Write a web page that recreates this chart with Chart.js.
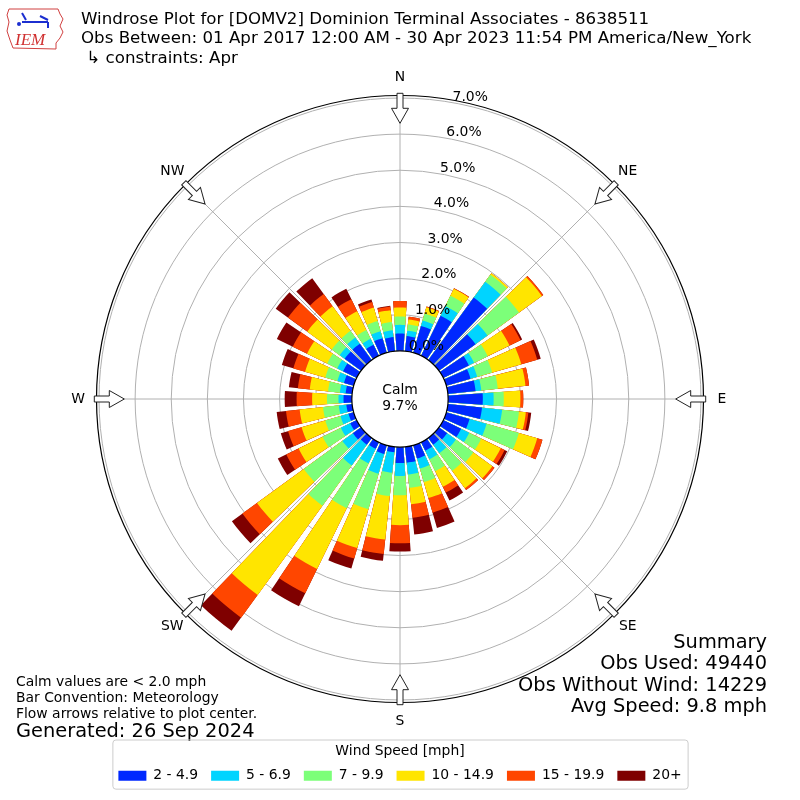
<!DOCTYPE html>
<html>
<head>
<meta charset="utf-8">
<script src="https://cdn.jsdelivr.net/npm/chart.js@4.4.0/dist/chart.umd.min.js"></script>
<style>
html,body{margin:0;padding:0;background:#ffffff;}
#wrap{width:800px;height:800px;position:relative;}
</style>
</head>
<body>
<div id="wrap"><canvas id="c" width="800" height="800"></canvas></div>
<script>
// ---------------- DATA ----------------
const directions = [0,10,20,30,40,50,60,70,80,90,100,110,120,130,140,150,160,170,
                    180,190,200,210,220,230,240,250,260,270,280,290,300,310,320,330,340,350];
const compassLabels = ['N','NE','E','SE','S','SW','W','NW'];
const speedBins = ['2 - 4.9','5 - 6.9','7 - 9.9','10 - 14.9','15 - 19.9','20+'];
const binColors = ['#0028ff','#00d4ff','#7cff79','#ffe500','#ff4600','#7f0000'];

// percent of all observations, per direction (0..350 deg)
const speed2to5   = [0.48,0.42,0.77,1.23,2.14,1.25,0.79,0.70,0.77,0.96,0.95,0.67,0.55,0.28,0.23,0.26,0.38,0.44,
                     0.44,0.15,0.25,0.20,0.23,0.28,0.20,0.15,0.16,0.23,0.18,0.28,0.42,0.56,0.56,0.34,0.42,0.39];
const speed5to7   = [0.24,0.15,0.16,0.30,0.54,0.41,0.16,0.19,0.16,0.30,0.56,0.49,0.25,0.30,0.29,0.26,0.29,0.33,
                     0.36,0.57,0.57,0.45,0.71,0.36,0.29,0.23,0.21,0.14,0.16,0.19,0.18,0.17,0.21,0.18,0.20,0.19];
const speed7to10  = [0.23,0.17,0.20,0.32,0.24,1.08,0.42,0.43,0.46,0.28,0.47,0.93,0.37,0.60,0.60,0.37,0.39,0.37,
                     0.53,0.65,1.02,1.38,1.38,1.32,0.56,0.44,0.44,0.32,0.33,0.35,0.31,0.27,0.23,0.27,0.29,0.23];
const speed10to15 = [0.25,0.14,0.18,0.21,0.05,0.78,0.67,0.84,0.77,0.46,0.19,0.53,0.60,0.65,0.60,0.48,0.46,0.46,
                     0.83,1.21,1.12,1.87,3.05,1.60,0.74,0.68,0.65,0.41,0.51,0.58,0.62,0.84,0.84,0.58,0.39,0.33];
const speed15to20 = [0.18,0.08,0.02,0.02,0.00,0.05,0.34,0.46,0.10,0.08,0.07,0.15,0.12,0.07,0.06,0.18,0.42,0.37,
                     0.50,0.40,0.30,0.75,0.78,0.50,0.38,0.39,0.38,0.43,0.33,0.34,0.44,0.66,0.42,0.37,0.16,0.10];
const speed20plus = [0.00,0.00,0.00,0.00,0.00,0.00,0.05,0.10,0.00,0.00,0.08,0.00,0.08,0.00,0.00,0.24,0.44,0.47,
                     0.23,0.19,0.29,0.40,0.45,0.36,0.26,0.21,0.26,0.33,0.25,0.33,0.49,0.42,0.54,0.32,0.07,0.02];

const radialTicks = [0,1,2,3,4,5,6,7];
const radialTickLabels = ['0.0%','1.0%','2.0%','3.0%','4.0%','5.0%','6.0%','7.0%'];
const radialMin = -1.333;
const radialMax = 7;
const calmLabel = 'Calm';
const calmPercent = '9.7%';

const titleLines = [
  'Windrose Plot for [DOMV2] Dominion Terminal Associates - 8638511',
  'Obs Between: 01 Apr 2017 12:00 AM - 30 Apr 2023 11:54 PM America/New_York',
  ' \u21b3 constraints: Apr'
];
const summaryLines = ['Summary','Obs Used: 49440','Obs Without Wind: 14229','Avg Speed: 9.8 mph'];
const noteLines = ['Calm values are < 2.0 mph','Bar Convention: Meteorology','Flow arrows relative to plot center.'];
const generatedText = 'Generated: 26 Sep 2024';
const legendTitle = 'Wind Speed [mph]';

// ---------------- BUILD ----------------
const seriesValues = [speed2to5, speed5to7, speed7to10, speed10to15, speed15to20, speed20plus];
const SECTOR = 360 / directions.length;
const BAR = SECTOR * 0.8;
// arc slots clockwise from north: half of N bar, (gap, bar) for each other direction, gap, other half of N bar
const slots = [{dir: 0, angle: BAR / 2}];
for (let k = 1; k < directions.length; k++) {
  slots.push({dir: -1, angle: SECTOR - BAR});
  slots.push({dir: k, angle: BAR});
}
slots.push({dir: -1, angle: SECTOR - BAR});
slots.push({dir: 0, angle: BAR / 2});

const cumulative = [];
seriesValues.forEach((vals, b) => {
  cumulative.push(vals.map((v, k) => (b > 0 ? cumulative[b - 1][k] : 0) + v));
});

const datasets = seriesValues.map((vals, b) => ({
  label: speedBins[b],
  data: slots.map(s => s.dir < 0 ? 0 : cumulative[b][s.dir]),
  backgroundColor: (c) => (c.dataIndex !== undefined && slots[c.dataIndex] && slots[c.dataIndex].dir < 0) ? 'rgba(0,0,0,0)' : binColors[b],
  borderWidth: 0,
  angle: (c) => (c.dataIndex !== undefined && slots[c.dataIndex]) ? slots[c.dataIndex].angle : BAR
}));

const FONT = 'DejaVu Sans';
const LEGEND_TITLE_PAD = 43.5;

const decor = {
  id: 'decor',
  afterDraw(chart) {
    const ctx = chart.ctx;
    const s = chart.scales.r;
    const cx = s.xCenter, cy = s.yCenter, R = s.drawingArea;
    ctx.save();

    // outer frame
    ctx.beginPath();
    ctx.arc(cx, cy, R + 2.5, 0, Math.PI * 2);
    ctx.strokeStyle = '#000';
    ctx.lineWidth = 1.2;
    ctx.stroke();

    // calm circle
    const rc = s.getDistanceFromCenterForValue(0);
    ctx.beginPath();
    ctx.arc(cx, cy, rc, 0, Math.PI * 2);
    ctx.fillStyle = '#fff';
    ctx.fill();
    ctx.strokeStyle = '#000';
    ctx.lineWidth = 1.2;
    ctx.stroke();

    ctx.fillStyle = '#000';
    ctx.font = '13.9px "' + FONT + '"';
    ctx.textAlign = 'center';
    ctx.textBaseline = 'middle';
    ctx.fillText(calmLabel, cx, cy - 9);
    ctx.fillText(calmPercent, cx, cy + 7.5);

    // radial tick labels
    const la = 10 * Math.PI / 180;
    ctx.textAlign = 'left';
    ctx.textBaseline = 'alphabetic';
    radialTicks.forEach((v, i) => {
      const r = s.getDistanceFromCenterForValue(v) + 2;
      ctx.fillText(radialTickLabels[i], cx + r * Math.sin(la), cy - r * Math.cos(la));
    });

    // compass arrows and labels
    compassLabels.forEach((lab, i) => {
      const a = i * 45 * Math.PI / 180;
      ctx.save();
      ctx.translate(cx, cy);
      ctx.rotate(a);
      const yt = -(R + 4.7), yb = -(R - 10.3), yp = -(R - 25.3);
      ctx.beginPath();
      ctx.moveTo(-3, yt); ctx.lineTo(3, yt); ctx.lineTo(3, yb); ctx.lineTo(8.5, yb);
      ctx.lineTo(0, yp); ctx.lineTo(-8.5, yb); ctx.lineTo(-3, yb); ctx.closePath();
      ctx.fillStyle = '#fff';
      ctx.fill();
      ctx.strokeStyle = '#222';
      ctx.lineWidth = 1;
      ctx.stroke();
      ctx.restore();
      const rl = R + 21;
      ctx.fillStyle = '#000';
      ctx.textAlign = 'center';
      ctx.textBaseline = 'middle';
      ctx.fillText(lab, cx + rl * Math.sin(a), cy - rl * Math.cos(a));
    });

    // title lines
    ctx.textAlign = 'left';
    ctx.textBaseline = 'alphabetic';
    ctx.font = '16.67px "' + FONT + '"';
    [24, 43.3, 62.6].forEach((y, i) => ctx.fillText(titleLines[i], 81, y));

    // summary
    ctx.textAlign = 'right';
    ctx.font = '19.4px "' + FONT + '"';
    [647.7, 669.3, 690.7, 712.3].forEach((y, i) => ctx.fillText(summaryLines[i], 767, y));

    // notes
    ctx.textAlign = 'left';
    ctx.font = '13.9px "' + FONT + '"';
    [685.7, 701.7, 717.7].forEach((y, i) => ctx.fillText(noteLines[i], 16, y));
    ctx.font = '19.4px "' + FONT + '"';
    ctx.fillText(generatedText, 16, 736.7);

    // logo
    ctx.beginPath();
    ctx.moveTo(9, 9); ctx.lineTo(58, 9); ctx.lineTo(60, 14); ctx.lineTo(63, 19); ctx.lineTo(60, 26);
    ctx.lineTo(63, 32); ctx.lineTo(60, 38); ctx.lineTo(56, 43); ctx.lineTo(56, 49);
    ctx.lineTo(13, 48); ctx.lineTo(10, 40); ctx.lineTo(7, 31); ctx.lineTo(9, 22); ctx.lineTo(7, 15); ctx.closePath();
    ctx.fillStyle = '#fff'; ctx.fill();
    ctx.strokeStyle = '#d04040'; ctx.lineWidth = 1; ctx.stroke();
    ctx.strokeStyle = '#1c2fd0'; ctx.lineWidth = 2;
    ctx.beginPath(); ctx.moveTo(22, 22); ctx.lineTo(48, 22); ctx.stroke();
    ctx.beginPath(); ctx.moveTo(22, 13); ctx.lineTo(26, 20); ctx.stroke();
    ctx.beginPath(); ctx.moveTo(40, 16); ctx.lineTo(48, 20); ctx.stroke();
    ctx.beginPath(); ctx.moveTo(48, 22); ctx.lineTo(48, 28); ctx.stroke();
    ctx.fillStyle = '#1c2fd0';
    ctx.beginPath(); ctx.arc(19, 24, 2, 0, Math.PI * 2); ctx.fill();
    ctx.fillStyle = '#d03030';
    ctx.font = 'italic 17px "Liberation Serif"';
    ctx.textAlign = 'left';
    ctx.fillText('IEM', 15, 45);

    // legend frame
    const lg = chart.legend;
    if (lg && lg.legendHitBoxes && lg.legendHitBoxes.length) {
      const hb = lg.legendHitBoxes;
      const x0 = hb[0].left - 6;
      const last = hb[hb.length - 1];
      const x1 = last.left + last.width + 6;
      const itemC = hb[0].top + hb[0].height / 2;
      const titleC = lg.top + LEGEND_TITLE_PAD + 13.9 / 2;
      const y0 = titleC - 12, y1 = itemC + 13;
      ctx.beginPath();
      if (ctx.roundRect) ctx.roundRect(x0 + 0.5, y0 + 0.5, x1 - x0, y1 - y0, 3);
      else ctx.rect(x0 + 0.5, y0 + 0.5, x1 - x0, y1 - y0);
      ctx.strokeStyle = '#cccccc';
      ctx.lineWidth = 1;
      ctx.stroke();
    }
    ctx.restore();
  }
};

new Chart(document.getElementById('c'), {
  type: 'polarArea',
  data: { labels: slots.map(s => s.dir < 0 ? '' : String(directions[s.dir])), datasets: datasets },
  options: {
    responsive: false,
    animation: false,
    events: [],
    layout: { padding: { top: 98, bottom: 7.4, left: 0, right: 0 } },
    scales: {
      r: {
        type: 'radialLinear',
        min: radialMin,
        max: radialMax,
        startAngle: 0,
        labels: compassLabels,
        z: 1,
        ticks: { display: false, stepSize: 1 },
        grid: { display: true, circular: true, color: '#b0b0b0', lineWidth: 1 },
        angleLines: { display: true, color: '#b0b0b0', lineWidth: 1 },
        pointLabels: { display: false },
        afterBuildTicks: (axis) => { axis.ticks = axis.ticks.filter(t => t.value > -1e-9); }
      }
    },
    plugins: {
      tooltip: { enabled: false },
      legend: {
        display: true,
        position: 'bottom',
        align: 'center',
        labels: {
          boxWidth: 28, boxHeight: 10, padding: 13, color: '#000',
          font: { family: FONT, size: 13.9 },
          generateLabels: () => speedBins.map((t, i) => ({
            text: t, fillStyle: binColors[i], strokeStyle: binColors[i], lineWidth: 0,
            hidden: false, datasetIndex: i, fontColor: '#000'
          }))
        },
        title: {
          display: true, text: legendTitle, color: '#000',
          font: { family: FONT, size: 13.9, lineHeight: 0.8 },
          padding: { top: LEGEND_TITLE_PAD, bottom: 0 }
        }
      }
    }
  },
  plugins: [decor]
});
</script>
</body>
</html>
